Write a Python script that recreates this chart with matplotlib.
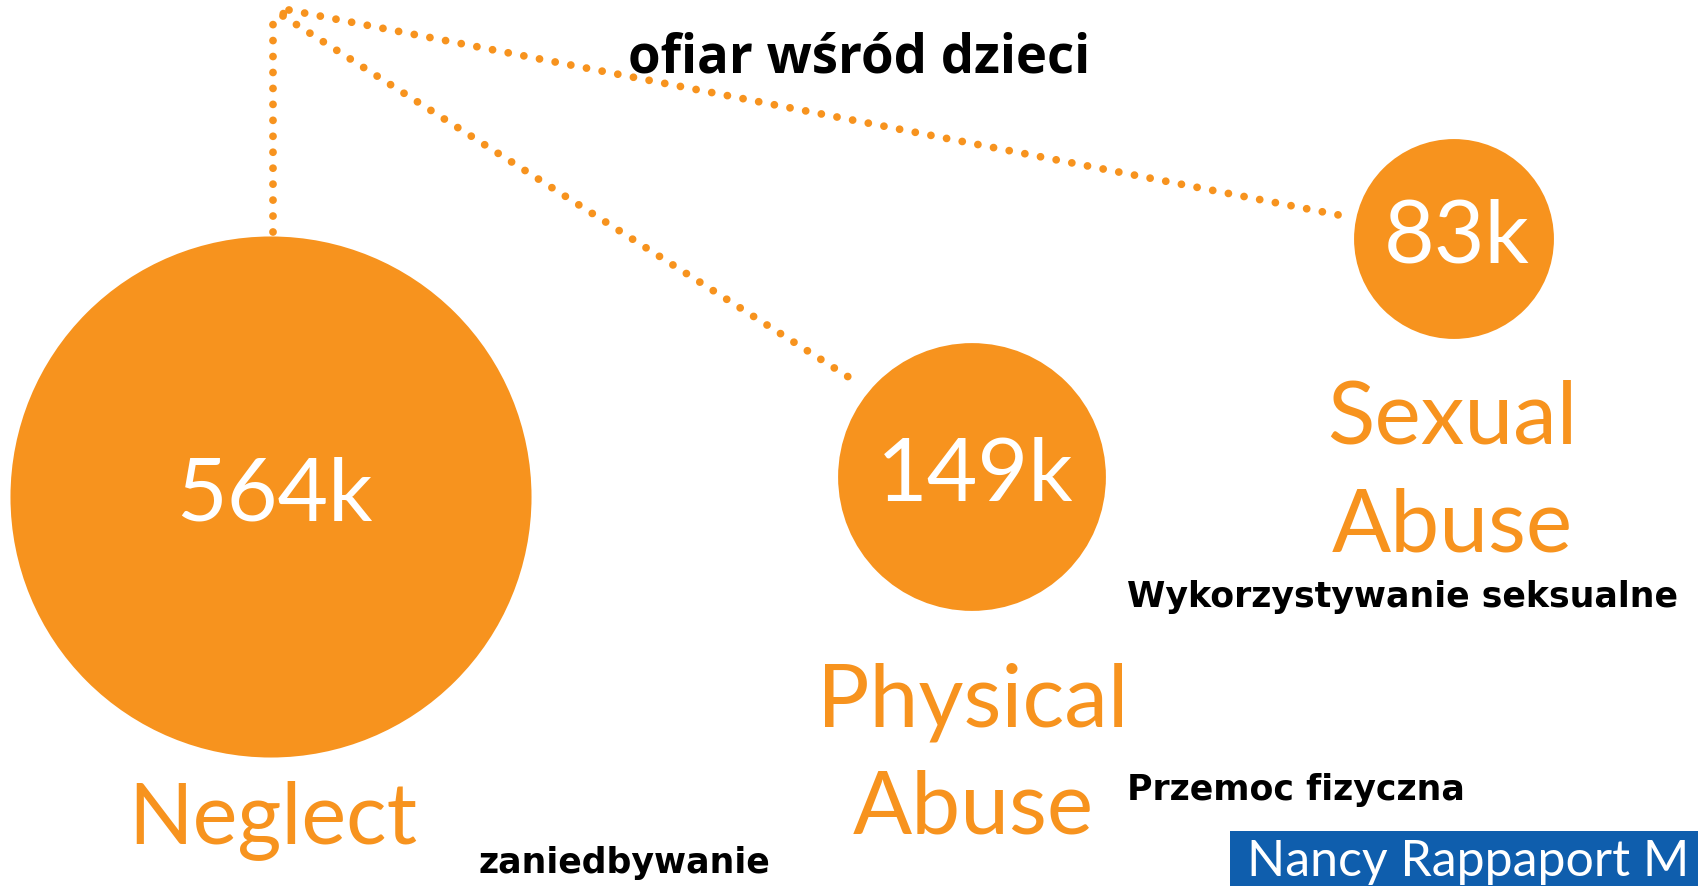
import matplotlib
matplotlib.use("Agg")
import matplotlib.pyplot as plt
from matplotlib.patches import Circle, Rectangle
import numpy as np

# ---- data ----
categories = ["Neglect", "Physical\nAbuse", "Sexual\nAbuse"]
values_k = [564, 149, 83]
value_labels = ["564k", "149k", "83k"]
polish_labels = ["zaniedbywanie", "Przemoc fizyczna", "Wykorzystywanie seksualne"]
title = "ofiar wśród dzieci"
credit = "Nancy Rappaport M"

# ---- layout (pixel coordinates) ----
W, H = 1699, 886
centers = [(271, 497), (972, 477), (1454, 239)]
scale = 10.97  # radius = scale * sqrt(value)
label_xy = [(273, 843), (973, 726), (1452, 443)]
label_sizes = [61, 63, 63]
polish_xy = [(479, 873), (1127, 800), (1127, 607)]

ORANGE = "#F7931E"
BLUE = "#0F5EAD"

fig = plt.figure(figsize=(W / 100, H / 100), dpi=100)
ax = fig.add_axes([0, 0, 1, 1])
ax.set_xlim(0, W)
ax.set_ylim(H, 0)
ax.set_aspect("equal")
ax.axis("off")

reg = dict(family=["Lato", "DejaVu Sans"], weight="normal")
wide_bold = dict(family=["DejaVu Sans"], weight="bold")
title_bold = dict(family=["Open Sans", "DejaVu Sans"], weight="bold")

# dotted connectors
dot_kw = dict(color=ORANGE, lw=5.6, linestyle=(0, (0.001, 2.05)),
              dash_capstyle="round", zorder=1)
ax.plot([273, 273, 289], [232, 22, 9], **dot_kw)
ax.plot([283, 861], [16, 385], **dot_kw)
ax.plot([289, 1349], [10, 217], **dot_kw)

for (cx, cy), v, vl in zip(centers, values_k, value_labels):
    r = scale * np.sqrt(v)
    ax.add_patch(Circle((cx, cy), r, color=ORANGE, zorder=2, lw=0))
    ax.text(cx + 3, cy - 1, vl, color="white", fontsize=63, ha="center",
            va="center", zorder=3, **reg)

for (x, y), lab, fs in zip(label_xy, categories, label_sizes):
    lines = lab.split("\n")
    for i, ln in enumerate(lines):
        ax.text(x, y + i * 108, ln, color=ORANGE, fontsize=fs, ha="center",
                va="baseline", **reg)

for (x, y), lab in zip(polish_xy, polish_labels):
    ax.text(x, y, lab, color="black", fontsize=25, ha="left", va="baseline", **wide_bold)

ax.text(628, 72, title, color="black", fontsize=38, ha="left", va="baseline", **title_bold)

ax.add_patch(Rectangle((1230, 831), W - 1230, H - 831, color=BLUE, lw=0, zorder=4))
ax.text(1247, 876, credit, color="white", fontsize=36, ha="left", va="baseline",
        zorder=5, **reg)

fig.savefig("out.png", dpi=100)
